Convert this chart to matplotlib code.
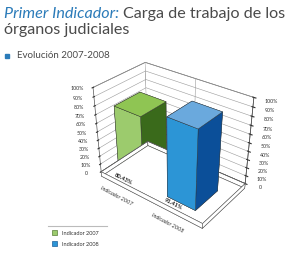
import numpy as np
import matplotlib.pyplot as plt
from matplotlib.patches import Patch, Rectangle
from matplotlib.lines import Line2D

plt.rcParams["font.family"] = ["Lato", "DejaVu Sans"]

# ---- data ----
categories = ["Indicador 2007", "Indicador 2008"]
values = [80.43, 91.41]
value_labels = ["80.43%", "91.41%"]
z_ticks = [0, 10, 20, 30, 40, 50, 60, 70, 80, 90, 100]
z_tick_labels = ["0"] + [f"{t}%" for t in z_ticks[1:]]

# front, top, side colours per series
bar_colors = {
    "Indicador 2007": ("#9ccb6d", "#8fc553", "#3a6a1b"),
    "Indicador 2008": ("#2c95d6", "#6aa9dd", "#0b4f99"),
}

TITLE_BLUE = "#2b7bb9"
TEXT_GREY = "#4a4a4a"
EDGE = "#555555"


def main() -> None:
    fig = plt.figure(figsize=(3.0, 2.54), dpi=100)

    # ---- title ----
    t1 = fig.text(0.013, 0.928, "Primer Indicador:", fontsize=11.6,
                  style="italic", color=TITLE_BLUE)
    fig.canvas.draw()
    bb = t1.get_window_extent()
    x_next = (bb.x1 + 4) / fig.bbox.width
    fig.text(x_next, 0.928, "Carga de trabajo de los", fontsize=11.6,
             color=TEXT_GREY)
    fig.text(0.013, 0.868, "órganos judiciales", fontsize=11.6,
             color=TEXT_GREY)

    # subtitle with square bullet
    fig.add_artist(Rectangle((0.017, 0.772), 0.012, 0.016,
                             transform=fig.transFigure, color=TITLE_BLUE))
    fig.text(0.057, 0.770, "Evolución 2007-2008", fontsize=7,
             color=TEXT_GREY)

    # ---- 3d bars ----
    ax = fig.add_axes([0.13, 0.10, 0.87, 0.70], projection="3d")
    ax.set_proj_type("persp", focal_length=0.5)
    ax.view_init(elev=32, azim=-52)
    ax.set_xlim(0.5, len(categories) + 0.5)
    ax.set_ylim(0, 1)
    ax.set_zlim(0, 100)
    ax.set_box_aspect((1.72, 1.0, 1.3))

    # base slab under the floor (top face left open)
    x0, x1 = ax.get_xlim()
    y0, y1 = ax.get_ylim()
    slab = 6
    clear = (1, 1, 1, 0)
    ax.bar3d(x0, y0, -slab, x1 - x0, y1 - y0, slab,
             color=["white", clear, "white", "white", "white", "white"],
             shade=False, edgecolor=EDGE, linewidth=0.4)

    w, d, y_bar = 0.52, 0.5, 0.14
    for i, (cat, val) in enumerate(zip(categories, values)):
        front, top, side = bar_colors[cat]
        # face order: -z, +z, -y, +y, -x, +x
        cols = [top, top, front, front, side, side]
        ax.bar3d(i + 1 - w / 2, y_bar, 0, w, d, val,
                 color=cols, shade=False, edgecolor="#333333",
                 linewidth=0.3)
        ax.text(i + 1 - 0.08, y_bar / 2, 0, value_labels[i], zdir="x",
                fontsize=4.2, fontweight="bold", color="#222222",
                ha="center", va="center", zorder=100)
        ax.text(i + 1, -0.15, -slab - 4, cat, zdir="x", fontsize=4,
                style="italic", color="#333333", ha="center", va="center",
                zorder=100)

    ax.set_xticks(np.arange(1.5, len(categories), 1.0))
    ax.set_xticklabels([])
    ax.set_yticks([])
    ax.set_zticks(z_ticks)
    ax.set_zticklabels(z_tick_labels)
    ax.tick_params(axis="z", labelsize=3.8, pad=-1, colors="#333333")
    ax.tick_params(axis="x", length=0)
    ax.zaxis.set_ticks_position("both")

    for a in (ax.xaxis, ax.yaxis, ax.zaxis):
        a.set_pane_color((1, 1, 1, 1))
        a.pane.set_edgecolor(EDGE)
        a.pane.set_linewidth(0.5)
        a.line.set_color(EDGE)
        a.line.set_linewidth(0.5)
        a._axinfo["grid"].update(color="#9a9a9a", linewidth=0.4)

    # ---- legend ----
    fig.add_artist(Line2D([0.16, 0.357], [0.11, 0.11],
                          transform=fig.transFigure, color="#bbbbbb",
                          linewidth=0.8))
    handles = [Patch(facecolor=bar_colors[c][0],
                     edgecolor="#5a7f3a" if i == 0 else "#1e5f9a",
                     linewidth=0.5) for i, c in enumerate(categories)]
    fig.legend(handles, categories, loc="upper left",
               bbox_to_anchor=(0.155, 0.113), frameon=False, fontsize=4,
               handlelength=1.0, handleheight=1.0, labelspacing=1.0,
               handletextpad=0.8, labelcolor="#333333")

    fig.savefig("out.png", dpi=100)
    plt.close(fig)


if __name__ == "__main__":
    main()
